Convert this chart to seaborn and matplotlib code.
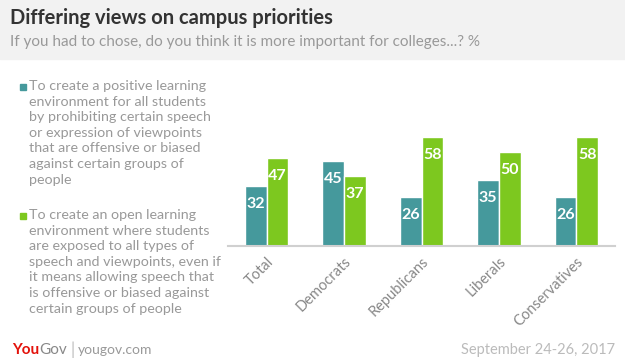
import pandas as pd
import seaborn as sns
import matplotlib.pyplot as plt
from matplotlib.patches import Rectangle

categories = ['Total', 'Democrats', 'Republicans', 'Liberals', 'Conservatives']
prohibit_speech = [32, 45, 26, 35, 26]
open_environment = [47, 37, 58, 50, 58]

legend_prohibit = ('To create a positive learning\nenvironment for all students\n'
                   'by prohibiting certain speech\nor expression of viewpoints\n'
                   'that are offensive or biased\nagainst certain groups of\npeople')
legend_open = ('To create an open learning\nenvironment where students\n'
               'are exposed to all types of\nspeech and viewpoints, even if\n'
               'it means allowing speech that\nis offensive or biased against\n'
               'certain groups of people')

TEAL = '#45999c'
GREEN = '#7dc81f'
W, H = 625, 363

sns.set_style('white')
plt.rcParams['font.family'] = ['Lato', 'DejaVu Sans']

df = pd.DataFrame({
    'group': categories * 2,
    'answer': ['prohibit'] * len(categories) + ['open'] * len(categories),
    'value': prohibit_speech + open_environment,
})

fig = plt.figure(figsize=(W / 100, H / 100), dpi=100)


def fx(px):
    return px / W


def fy(py):
    return 1 - py / H


# header band
fig.patches.append(Rectangle((0, fy(59)), 1, 59 / H, transform=fig.transFigure,
                             color='#f2f2f2', zorder=0))
fig.text(fx(10), fy(18), 'Differing views on campus priorities', fontsize=14.5,
         fontweight='bold', color='#333333', va='center')
fig.text(fx(10), fy(42), 'If you had to chose, do you think it is more important for colleges...? %',
         fontsize=11, color='#999999', va='center')

ax = fig.add_axes([fx(228), fy(246), fx(615) - fx(228), 62 * 1.88 / H])
sns.barplot(data=df, x='group', y='value', hue='answer', palette=[TEAL, GREEN],
            width=0.56, saturation=1, ax=ax, legend=False)
ax.set_ylim(0, 62)
ax.set_xlim(-0.5, 4.5)

for container in ax.containers:
    for bar in container:
        ax.annotate(f'{bar.get_height():.0f}',
                    (bar.get_x() + bar.get_width() / 2, bar.get_height()),
                    xytext=(0, -18), textcoords='offset pixels', ha='center', va='center',
                    color='white', fontsize=11.5, fontweight='bold')

ax.set_xlabel('')
ax.set_ylabel('')
ax.set_yticks([])
for side in ['top', 'right', 'left']:
    ax.spines[side].set_visible(False)
ax.spines['bottom'].set_color('#d0d0d0')
ax.spines['bottom'].set_linewidth(1.5)
ax.tick_params(axis='x', length=0, pad=6)
plt.setp(ax.get_xticklabels(), rotation=45, ha='right', rotation_mode='anchor',
         fontsize=10.5, color='#888888')

# legend
fig.patches.append(Rectangle((fx(20), fy(90)), 6 / W, 6 / H, transform=fig.transFigure,
                             color=TEAL))
fig.patches.append(Rectangle((fx(20), fy(219)), 6 / W, 6 / H, transform=fig.transFigure,
                             color=GREEN))
fig.text(fx(29), fy(80), legend_prohibit, fontsize=10.3, color='#999999', va='top',
         linespacing=1.36)
fig.text(fx(29), fy(209), legend_open, fontsize=10.3, color='#999999', va='top',
         linespacing=1.36)

# footer
renderer = fig.canvas.get_renderer()
you = fig.text(fx(12), fy(350), 'You', fontsize=11, fontweight='bold', color='#e3120b',
               va='center')
x_end = you.get_window_extent(renderer).x1
gov = fig.text(x_end / W + 0.5 / W, fy(350), 'Gov', fontsize=11, color='#888888', va='center')
x_end = gov.get_window_extent(renderer).x1
fig.text(x_end / W + 3 / W, fy(350), '|', fontsize=12, color='#bbbbbb', va='center')
fig.text(x_end / W + 10 / W, fy(350), 'yougov.com', fontsize=10, color='#999999', va='center')
fig.text(fx(615), fy(350), 'September 24-26, 2017', fontsize=10.5, color='#bbbbbb',
         va='center', ha='right')

fig.savefig('out.png', dpi=100, facecolor='white')
